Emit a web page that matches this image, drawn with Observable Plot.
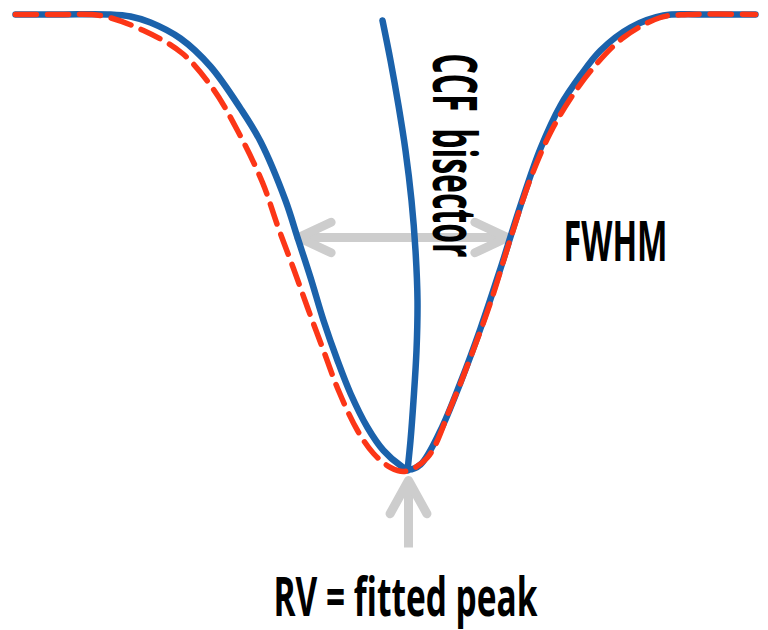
<!DOCTYPE html>
<html>
<head>
<meta charset="utf-8">
<script src="https://cdn.jsdelivr.net/npm/d3@7"></script>
<script src="https://cdn.jsdelivr.net/npm/@observablehq/plot@0.6"></script>
<style>
  html, body { margin: 0; padding: 0; background: #ffffff; }
  #chart svg { display: block; }
</style>
</head>
<body>
<div id="chart"></div>
<script>
// ---- Data (velocity in km/s relative to line centre, flux in % of continuum) ----
const ccfVelocity = [-39.3, -34.8, -29.8, -27.8, -25.8, -22.8, -19.8, -16.8, -14.8, -12.3, -11.1, -9.8, -8.5, -7.1, -5.8, -4.1, -2.5, -0.8, 0.0, 1.2, 3.2, 5.2, 7.2, 9.2, 11.2, 13.2, 15.2, 17.2, 19.2, 22.2, 25.5, 29.2, 34.7];
const ccfFlux     = [100.0, 100.0, 100.0, 99.8, 99.2, 97.6, 94.8, 90.6, 87.3, 81.4, 77.7, 73.7, 69.4, 65.4, 62.1, 58.7, 56.4, 54.9, 54.5, 55.0, 58.4, 63.2, 68.6, 74.6, 80.9, 86.6, 90.9, 93.9, 96.4, 98.7, 99.9, 100.0, 100.0];

const fitVelocity = [-39.3, -34.8, -30.8, -26.5, -22.6, -19.5, -17.1, -14.6, -13.1, -11.5, -10.1, -8.5, -7.0, -5.1, -3.5, -1.8, -0.4, 1.9, 4.2, 6.2, 8.2, 10.2, 12.2, 14.2, 16.2, 18.5, 21.5, 25.2, 27.9, 34.7];
const fitFlux     = [100.0, 100.0, 99.9, 98.4, 96.1, 92.5, 88.4, 83.2, 78.9, 74.6, 70.7, 66.4, 62.4, 58.4, 56.1, 54.7, 54.3, 55.7, 60.7, 65.7, 71.2, 77.6, 83.6, 88.2, 91.6, 94.7, 97.7, 99.7, 100.0, 100.0];

const bisectorVelocity = [-2.6, -1.8, -1.0, -0.3, 0.3, 0.7, 0.9, 0.8, 0.5, 0.2, -0.1];
const bisectorFlux     = [99.4, 95.4, 90.9, 86.4, 81.4, 76.4, 71.4, 66.4, 61.4, 57.4, 54.4];

const fwhmLevel = 77.7;            // half-maximum flux
const fwhmEdges = [-11.0, 9.9];    // velocities where the CCF crosses half maximum
const rvPeak = 0.0;                // fitted peak velocity
const rvArrowFlux = [46.7, 53.4];  // arrow from below up to the peak

const labelTexts = ["CCF  bisector", "FWHM", "RV = fitted peak"];

// ---- Build tables ----
const ccf = ccfVelocity.map((v, i) => ({v, f: ccfFlux[i]}));
const fit = fitVelocity.map((v, i) => ({v, f: fitFlux[i]}));
const bisector = bisectorVelocity.map((v, i) => ({v, f: bisectorFlux[i]}));

const blue = "#1b62ab";
const red = "#fc3617";
const gray = "#cdcdcd";

// chevron arrow-head shape (tip at origin, pointing "up" before rotation)
function chevron(halfAngleDeg) {
  const a = halfAngleDeg * Math.PI / 180;
  return {
    draw(context, l) {
      context.moveTo(-l * Math.sin(a), l * Math.cos(a));
      context.lineTo(0, 0);
      context.lineTo(l * Math.sin(a), l * Math.cos(a));
    }
  };
}

const fwhmShaft = [{x1: fwhmEdges[0], x2: fwhmEdges[1], y1: fwhmLevel, y2: fwhmLevel}];
const fwhmHeads = [{x: fwhmEdges[0], y: fwhmLevel, r: -90}, {x: fwhmEdges[1], y: fwhmLevel, r: 90}];
const rvShaft = [{x1: rvPeak, x2: rvPeak, y1: rvArrowFlux[0], y2: rvArrowFlux[1]}];
const rvHead = [{x: rvPeak, y: rvArrowFlux[1], r: 0}];

const font = "'Open Sans', 'Liberation Sans Narrow', 'DejaVu Sans Condensed', sans-serif";

const chart = Plot.plot({
  width: 768,
  height: 630,
  margin: 0,
  x: {domain: [-40.8, 36.0], range: [0, 768], axis: null},
  y: {domain: [38.4, 101.4], range: [630, 0], axis: null},
  style: {background: "#ffffff"},
  marks: [
    // grey arrows
    Plot.link(fwhmShaft, {x1: "x1", x2: "x2", y1: "y1", y2: "y2", stroke: gray, strokeWidth: 9}),
    Plot.vector(fwhmHeads, {x: "x", y: "y", rotate: "r", length: 36, anchor: "start",
      shape: chevron(25), stroke: gray, strokeWidth: 9, strokeLinecap: "round", strokeLinejoin: "round"}),
    Plot.link(rvShaft, {x1: "x1", x2: "x2", y1: "y1", y2: "y2", stroke: gray, strokeWidth: 9}),
    Plot.vector(rvHead, {x: "x", y: "y", rotate: "r", length: 38, anchor: "start",
      shape: chevron(29), stroke: gray, strokeWidth: 9, strokeLinecap: "round", strokeLinejoin: "round"}),
    // CCF and bisector
    Plot.line(ccf, {x: "v", y: "f", stroke: blue, strokeWidth: 6.5, curve: "catmull-rom"}),
    Plot.line(bisector, {x: "v", y: "f", stroke: blue, strokeWidth: 6.5, curve: "catmull-rom"}),
    // Gaussian fit
    Plot.line(fit, {x: "v", y: "f", stroke: red, strokeWidth: 5.5, strokeDasharray: "21,11", curve: "catmull-rom"}),
    // labels
    Plot.text([labelTexts[0]], {x: 2.4, y: 85.9, text: d => d, rotate: 90, textAnchor: "middle", lineAnchor: "bottom",
      fontSize: 60, fontFamily: font, fontWeight: 700, fill: "#000"}),
    Plot.text([labelTexts[1]], {x: 20.7, y: 75.4, text: d => d, textAnchor: "middle", lineAnchor: "bottom",
      fontSize: 56, fontFamily: font, fontWeight: 700, fill: "#000"}),
    Plot.text([labelTexts[2]], {x: -0.3, y: 39.9, text: d => d, textAnchor: "middle", lineAnchor: "bottom",
      fontSize: 53, fontFamily: font, fontWeight: 700, fill: "#000"})
  ]
});

// condense label widths to match the narrow typeface of the original
const textLengths = {"CCF  bisector": 204, "FWHM": 104, "RV = fitted peak": 264};
d3.select(chart).selectAll("text").each(function () {
  const t = this.textContent;
  if (textLengths[t]) {
    this.setAttribute("textLength", textLengths[t]);
    this.setAttribute("lengthAdjust", "spacingAndGlyphs");
  }
});
d3.select(chart).selectAll("text").style("white-space", "pre");

document.getElementById("chart").appendChild(chart);
</script>
</body>
</html>
